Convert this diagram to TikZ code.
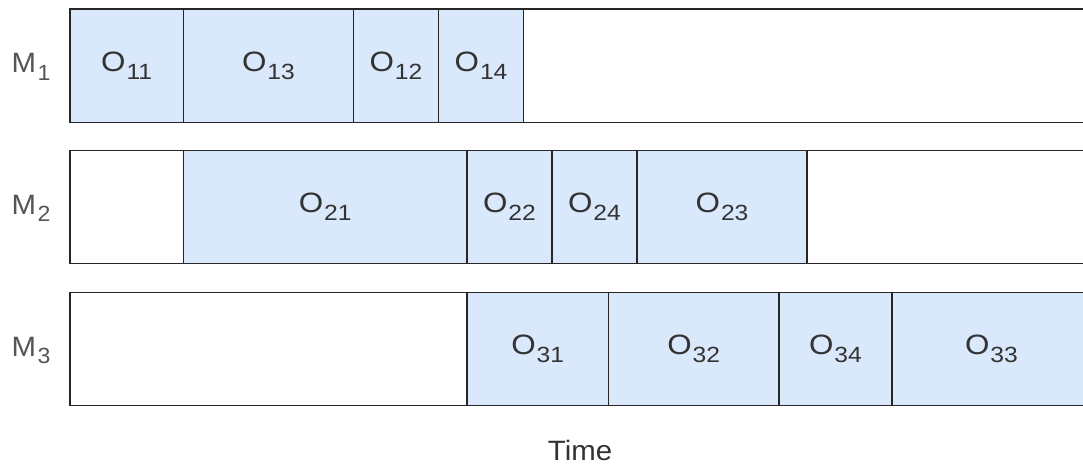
\documentclass[tikz,border=0pt]{standalone}
\usepackage{fontspec}
\usepackage{graphicx}
\setmainfont{Liberation Sans}
\definecolor{cellfill}{HTML}{DAE8FC}
\definecolor{linec}{HTML}{262626}
\definecolor{txt}{HTML}{333333}
\definecolor{lab}{HTML}{555555}
\newcommand{\opname}[2]{\scalebox{1.12}[1]{#1\kern0.03em\raisebox{-0.27em}{\fontsize{22}{24}\selectfont #2}}}
\newcommand{\mname}[2]{\scalebox{1.05}[1]{#1\kern0.05em\raisebox{-0.27em}{\fontsize{22}{24}\selectfont #2}}}
\begin{document}
\begin{tikzpicture}[x=1pt,y=-1pt,
  box/.style={draw=linec, line width=1.5pt, inner sep=0pt, outer sep=0pt,
    minimum height=113.3pt, anchor=north west, text=txt,
    font=\fontsize{28}{32}\selectfont},
  op/.style={box, fill=cellfill},
  idle/.style={box, fill=white},
  mlab/.style={text=lab, font=\fontsize{28}{32}\selectfont, inner sep=0pt},
]
\useasboundingbox (0,0) rectangle (1083,464);
% Row 1
\node[idle, minimum width=567pt] (r1idle) at (523.6,9) {};
\node[op, minimum width=113.4pt] (o11) at (70,9) {\opname{O}{11}};
\node[op, minimum width=170.1pt] (o13) at (183.4,9) {\opname{O}{13}};
\node[op, minimum width=85.05pt] (o12) at (353.5,9) {\opname{O}{12}};
\node[op, minimum width=85.05pt] (o14) at (438.55,9) {\opname{O}{14}};
% Row 2
\node[idle, minimum width=113.4pt] (r2idlea) at (70,150.3) {};
\node[idle, minimum width=283.5pt] (r2idleb) at (807.1,150.3) {};
\node[op, minimum width=283.5pt] (o21) at (183.4,150.3) {\opname{O}{21}};
\node[op, minimum width=85.05pt] (o22) at (466.9,150.3) {\opname{O}{22}};
\node[op, minimum width=85.05pt] (o24) at (551.95,150.3) {\opname{O}{24}};
\node[op, minimum width=170.1pt] (o23) at (637,150.3) {\opname{O}{23}};
% Row 3
\node[idle, minimum width=396.9pt] (r3idle) at (70,292.3) {};
\node[op, minimum width=141.75pt] (o31) at (466.9,292.3) {\opname{O}{31}};
\node[op, minimum width=170.1pt] (o32) at (608.65,292.3) {\opname{O}{32}};
\node[op, minimum width=113.4pt] (o34) at (778.75,292.3) {\opname{O}{34}};
\node[op, minimum width=198.45pt] (o33) at (892.15,292.3) {\opname{O}{33}};
% Machine labels
\node[mlab] (m1) at (31,67) {\mname{M}{1}};
\node[mlab] (m2) at (31,208.5) {\mname{M}{2}};
\node[mlab] (m3) at (31,350.5) {\mname{M}{3}};
% Time
\node[mlab, text=txt] (time) at (580,450) {\scalebox{1.05}[1]{Time}};
\end{tikzpicture}
\end{document}
